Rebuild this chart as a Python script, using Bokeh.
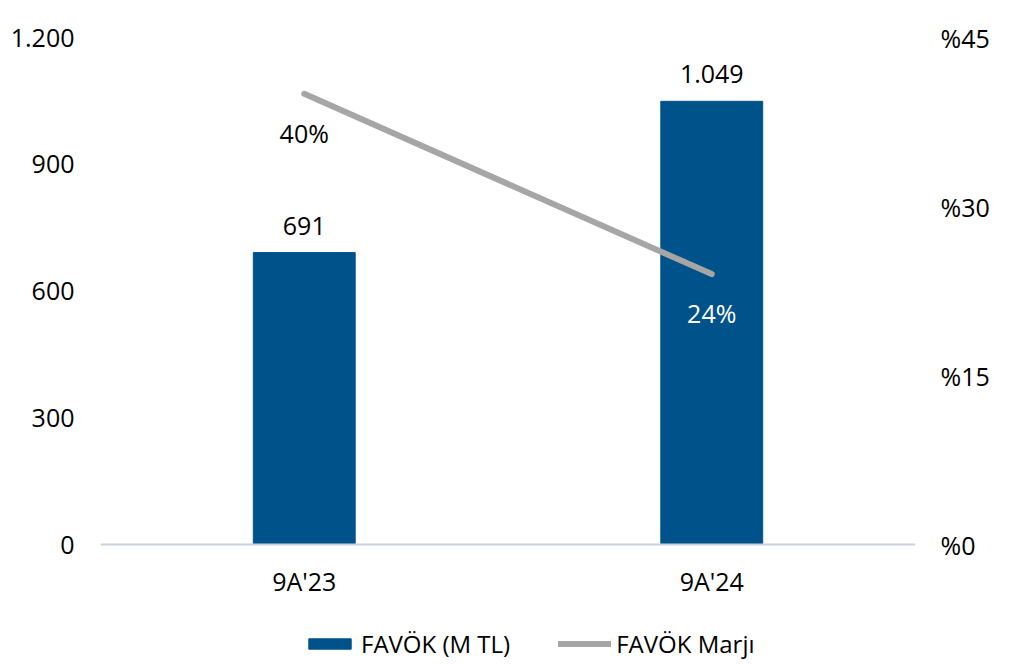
from bokeh.plotting import figure
from bokeh.models import (ColumnDataSource, Range1d, LinearAxis, FixedTicker,
                          Legend, LegendItem, FactorRange, Span)
from bokeh.core.properties import value
from bokeh.embed import file_html
from bokeh.resources import INLINE

categories = ["9A'23", "9A'24"]
favok = [691, 1049]
favok_labels = ["691", "1.049"]
marj = [40, 24]
marj_labels = ["40%", "24%"]
left_ticks = [0, 300, 600, 900, 1200]
left_tick_labels = ["0", "300", "600", "900", "1.200"]
right_ticks = [0, 15, 30, 45]
right_tick_labels = ["%0", "%15", "%30", "%45"]

FONT = "Open Sans"
BAR = "#00528A"
LINE = "#A6A6A6"

# geometry: value axis spans 507px for 0..1200; frame extends 116px below zero
LEFT_MAX, RIGHT_MAX = 1200, 45
px_per_unit = 507 / LEFT_MAX
below_px = 116
left_min = -below_px / px_per_unit
right_min = left_min * RIGHT_MAX / LEFT_MAX

p = figure(x_range=FactorRange(*categories), y_range=Range1d(left_min, LEFT_MAX),
           width=1018, height=664, output_backend="svg", toolbar_location=None,
           x_axis_location=None,
           min_border_left=100, min_border_right=103, min_border_top=37,
           min_border_bottom=4, outline_line_color=None)
p.extra_y_ranges = {"right": Range1d(right_min, RIGHT_MAX)}
p.grid.visible = False

src = ColumnDataSource(dict(cat=categories, favok=favok, flab=favok_labels,
                            marj=marj, mlab=marj_labels,
                            mcol=["#000000", "#FFFFFF"],
                            zero=[0, 0]))

# baseline (category axis line)
p.add_layout(Span(location=0, dimension="width", line_color="#C9D3E0",
                  line_width=2))

bars = p.vbar(x="cat", top="favok", bottom=0, width=0.25, source=src, color=BAR)
line = p.line(x="cat", y="marj", source=src, y_range_name="right",
              line_color=LINE, line_width=6, line_cap="round")

p.text(x="cat", y="favok", text="flab", source=src, y_offset=-27,
       text_align="center", text_baseline="middle", text_font=value(FONT),
       text_font_size="25px", text_color="#000000")
p.text(x="cat", y="marj", text="mlab", source=src, y_range_name="right",
       y_offset=39, text_align="center", text_baseline="middle",
       text_font=value(FONT), text_font_size="25px", text_color="mcol")

# category labels
p.text(x="cat", y="zero", text="cat", source=src, y_offset=36,
       text_align="center", text_baseline="middle", text_font=value(FONT),
       text_font_size="25px", text_color="#000000")

# left axis
ya = p.yaxis[0]
ya.ticker = FixedTicker(ticks=left_ticks)
ya.major_label_overrides = {t: l for t, l in zip(left_ticks, left_tick_labels)}
ya.axis_line_color = None
ya.major_tick_line_color = None
ya.minor_tick_line_color = None
ya.major_label_standoff = 20
ya.major_label_text_font = FONT
ya.major_label_text_font_size = "25px"
ya.major_label_text_color = "#000000"

# right axis
ra = LinearAxis(y_range_name="right", ticker=FixedTicker(ticks=right_ticks))
ra.major_label_overrides = {t: l for t, l in zip(right_ticks, right_tick_labels)}
ra.axis_line_color = None
ra.major_tick_line_color = None
ra.minor_tick_line_color = None
ra.major_label_standoff = 19
ra.major_label_text_font = FONT
ra.major_label_text_font_size = "25px"
ra.major_label_text_color = "#000000"
p.add_layout(ra, "right")

legend = Legend(items=[LegendItem(label="FAVÖK (M TL)", renderers=[bars]),
                       LegendItem(label="FAVÖK Marjı", renderers=[line])],
                orientation="horizontal", location=(203, 0),
                label_text_font=FONT, label_text_font_size="24px",
                label_text_color="#000000", glyph_width=53, glyph_height=13,
                label_standoff=5, spacing=48, padding=0, margin=0,
                border_line_color=None, background_fill_alpha=0)
p.add_layout(legend, "center")

open("out.html", "w").write(file_html(p, INLINE))
